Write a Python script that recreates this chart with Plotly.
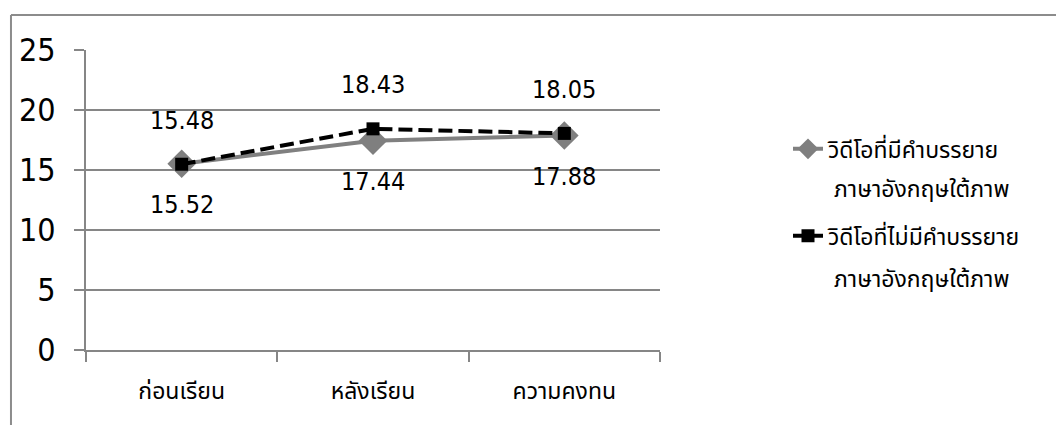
import plotly.graph_objects as go

# Scores by test phase
categories = ["ก่อนเรียน", "หลังเรียน", "ความคงทน"]
with_subtitles = [15.52, 17.44, 17.88]
without_subtitles = [15.48, 18.43, 18.05]
series_names = ["วิดีโอที่มีคำบรรยาย", "วิดีโอที่ไม่มีคำบรรยาย"]
series_name_tail = "ภาษาอังกฤษใต้ภาพ"
y_ticks = [0, 5, 10, 15, 20, 25]

NUM_FONT = "Liberation Sans Narrow, DejaVu Sans Condensed, sans-serif"
THAI_FONT = "Noto Sans Thai, Tahoma, sans-serif"
GRID = "#868686"

fig = go.Figure()
fig.add_trace(go.Scatter(
    x=categories, y=with_subtitles, name=series_names[0],
    mode="lines+markers", legendgroup="a",
    line=dict(color="#808080", width=4),
    marker=dict(symbol="diamond", size=22, color="#7f7f7f"),
))
fig.add_trace(go.Scatter(
    x=categories, y=without_subtitles, name=series_names[1],
    mode="lines+markers", legendgroup="b",
    line=dict(color="#000000", width=4, dash="14px,6px"),
    marker=dict(symbol="square", size=13, color="#000000"),
))

# value labels: with-subtitle series below, without-subtitle series above
for cat, v in zip(categories, with_subtitles):
    fig.add_annotation(x=cat, y=v, text=f"{v:.2f}", showarrow=False,
                       yshift=-41, font=dict(family=NUM_FONT, size=25, color="#000"))
for cat, v in zip(categories, without_subtitles):
    fig.add_annotation(x=cat, y=v, text=f"{v:.2f}", showarrow=False,
                       yshift=44, font=dict(family=NUM_FONT, size=25, color="#000"))

# second line of each legend entry
for y_pos in (0.533, 0.233):
    fig.add_annotation(xref="paper", yref="paper", x=1.2997, y=y_pos,
                       xanchor="left", yanchor="middle", showarrow=False,
                       text=series_name_tail,
                       font=dict(family=THAI_FONT, size=23, color="#000"))

# chart frame (top and left edges)
fig.add_shape(type="line", xref="paper", yref="paper", x0=-0.1307, x1=1.7, y0=1.1167, y1=1.1167,
              line=dict(color="#8c8c8c", width=2))
fig.add_shape(type="line", xref="paper", yref="paper", x0=-0.1307, x1=-0.1307, y0=1.1167, y1=-0.3,
              line=dict(color="#8c8c8c", width=2))

fig.update_layout(
    width=1056, height=425,
    margin=dict(l=86, r=396, t=50, b=75),
    plot_bgcolor="white", paper_bgcolor="white",
    showlegend=True,
    legend=dict(
        x=1.223, y=0.742, xanchor="left", yanchor="top",
        font=dict(family=THAI_FONT, size=23, color="#000"),
        tracegroupgap=54,
        bgcolor="rgba(0,0,0,0)",
    ),
    xaxis=dict(
        type="category", range=[-0.5, 2.5],
        showline=True, linecolor=GRID, linewidth=2,
        ticks="outside", tickson="boundaries", ticklen=10, tickcolor=GRID, tickwidth=2,
        showgrid=False,
        tickfont=dict(family=THAI_FONT, size=23, color="#000"),
        ticklabelstandoff=19,
    ),
    yaxis=dict(
        range=[0, 25], tickvals=y_ticks,
        showline=True, linecolor=GRID, linewidth=2,
        showgrid=True, gridcolor=GRID, gridwidth=2,
        ticks="outside", ticklen=10, tickcolor=GRID, tickwidth=2,
        zeroline=False,
        tickfont=dict(family=NUM_FONT, size=32, color="#000"),
        ticklabelstandoff=12,
    ),
)

fig.write_html("out.html")
